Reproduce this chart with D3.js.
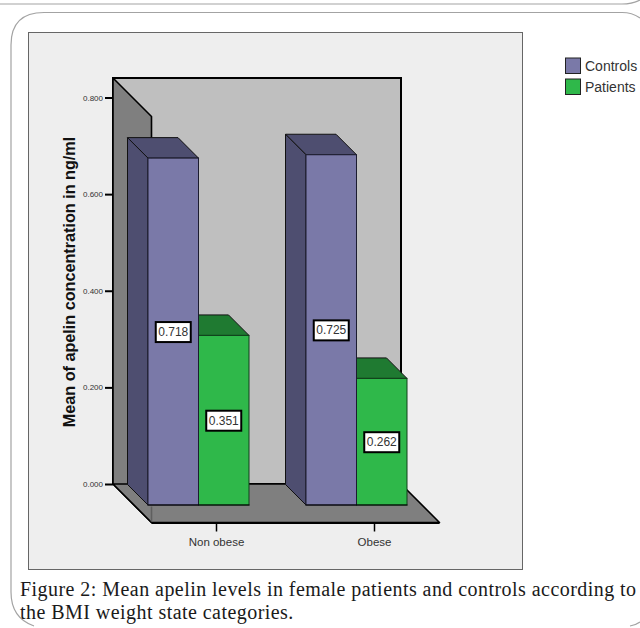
<!DOCTYPE html>
<html>
<head>
<meta charset="utf-8">
<script src="https://cdn.jsdelivr.net/npm/d3@7"></script>
<style>
  html, body { margin: 0; padding: 0; background: #fff; overflow: hidden; }
  svg { display: block; }
</style>
</head>
<body>
<script>
// data
var categories = ["Non obese", "Obese"];
var seriesNames = ["Controls", "Patients"];
var controls = [0.718, 0.725];
var patients = [0.351, 0.262];
var yTicks = [0, 0.2, 0.4, 0.6, 0.8];
var captionLines = [
  "Figure 2: Mean apelin levels in female patients and controls according to",
  "the BMI weight state categories."
];

var width = 640, height = 628;
var wallDepth = 38.5, barDepth = 20.5;
var wallLeft = 113, wallRight = 401, wallTop = 78;

var front = { Controls: "#7a79a8", Patients: "#2fb84a" };
var side = { Controls: "#4e4e70", Patients: "#1f7a31" };

var svg = d3.select("body").append("svg")
  .attr("width", width)
  .attr("height", height);

var yScale = d3.scaleLinear().domain([0, 0.8]).range([484, 97.5]);
var xCat = d3.scalePoint().domain(categories).range([216, 374]);
var xSeries = d3.scaleBand().domain(seriesNames).range([-68, 33]);

function poly(parent, pts, fill, stroke, sw) {
  return parent.append("polygon")
    .attr("points", pts.map(function(p) { return p.join(","); }).join(" "))
    .attr("fill", fill)
    .attr("stroke", stroke || "none")
    .attr("stroke-width", sw || 1)
    .attr("stroke-linejoin", "round");
}

// rounded page frames behind the figure
var frames = svg.append("g").attr("fill", "none").attr("stroke", "#a3a3a3").attr("stroke-width", 1.2);
frames.append("path").attr("d", "M0,4 L622,4 Q632,4 640,0");
frames.append("path").attr("d", "M640,18 Q632,12.5 622,12.5 L44,12.5 Q11,12.5 11,45 L11,592 Q11,618 34,626");
frames.append("path").attr("d", "M630,626 Q636,625 640,622");

// chart panel
svg.append("rect")
  .attr("x", 28.5).attr("y", 32.5)
  .attr("width", 494).attr("height", 537)
  .attr("fill", "#eeeeee")
  .attr("stroke", "#666").attr("stroke-width", 1);

var y0 = yScale(0);
var chart = svg.append("g");

// back wall
chart.append("rect")
  .attr("x", wallLeft).attr("y", wallTop)
  .attr("width", wallRight - wallLeft).attr("height", y0 - wallTop)
  .attr("fill", "#bfbfbf")
  .attr("stroke", "#000").attr("stroke-width", 2);

// left wall
poly(chart, [
  [wallLeft, wallTop],
  [wallLeft + wallDepth, wallTop + wallDepth],
  [wallLeft + wallDepth, y0 + wallDepth],
  [wallLeft, y0]
], "#7f7f7f", "#000", 1.6);

// floor
poly(chart, [
  [wallLeft, y0],
  [wallRight, y0],
  [wallRight + wallDepth, y0 + wallDepth],
  [wallLeft + wallDepth, y0 + wallDepth]
], "#7f7f7f", "#000", 1.6);

chart.append("line")
  .attr("x1", wallLeft + wallDepth).attr("x2", wallRight + wallDepth)
  .attr("y1", y0 + wallDepth + 0.5).attr("y2", y0 + wallDepth + 0.5)
  .attr("stroke", "#000").attr("stroke-width", 2);

// the corner between left wall and floor is a soft line in front of the bars
chart.append("line")
  .attr("x1", wallLeft + wallDepth).attr("x2", wallLeft + wallDepth)
  .attr("y1", y0 + barDepth + 2).attr("y2", y0 + wallDepth - 1)
  .attr("stroke", "#5f5f5f").attr("stroke-width", 1.6);

// bars, the front face stands barDepth in front of the back of the bar
var barBase = y0 + barDepth + 0.5;
var barOffset = barBase - y0;
var rows = [];
categories.forEach(function(c, i) {
  rows.push({ cat: c, name: "Patients", value: patients[i] });
  rows.push({ cat: c, name: "Controls", value: controls[i] });
});

var bars = chart.append("g");
rows.forEach(function(d) {
  var x0 = xCat(d.cat) + xSeries(d.name);
  var x1 = x0 + xSeries.bandwidth();
  var top = yScale(d.value) + barOffset;
  var lineCol = d.name == "Controls" ? "#1c1c30" : "#10401a";
  // top face
  poly(bars, [[x0 - barDepth, top - barDepth], [x1 - barDepth, top - barDepth], [x1, top], [x0, top]], side[d.name], "#111", 1);
  // side face
  poly(bars, [[x0 - barDepth, top - barDepth], [x0, top], [x0, barBase], [x0 - barDepth, barBase - barDepth]], side[d.name], "#111", 1);
  // front face
  bars.append("rect")
    .attr("x", x0).attr("y", top)
    .attr("width", x1 - x0).attr("height", barBase - top)
    .attr("fill", front[d.name])
    .attr("stroke", lineCol).attr("stroke-width", 1);
});
// bottom line under the bars
categories.forEach(function(c) {
  chart.append("line")
    .attr("x1", xCat(c) + xSeries.range()[0] - 0.5)
    .attr("x2", xCat(c) + xSeries.range()[1] + 0.5)
    .attr("y1", barBase).attr("y2", barBase)
    .attr("stroke", "#000").attr("stroke-width", 1.2);
});

// value labels in the middle of each front face
rows.forEach(function(d) {
  var cx = xCat(d.cat) + xSeries(d.name) + xSeries.bandwidth() / 2;
  var top = yScale(d.value) + barOffset;
  var cy = (top + barBase) / 2;
  var g = bars.append("g").attr("transform", "translate(" + cx + "," + (cy + 0.5) + ")");
  g.append("rect")
    .attr("x", -17.5).attr("y", -10)
    .attr("width", 35).attr("height", 20)
    .attr("fill", "#fff")
    .attr("stroke", "#000").attr("stroke-width", 2);
  g.append("text")
    .attr("text-anchor", "middle").attr("y", 4)
    .attr("font-family", "Liberation Sans, Arial, sans-serif")
    .attr("font-size", 12)
    .attr("fill", "#333")
    .text(d.value.toFixed(3));
});

// y axis
var yAxis = d3.axisLeft(yScale)
  .tickValues(yTicks)
  .tickFormat(d3.format(".3f"))
  .tickSize(8)
  .tickPadding(2);
var yG = svg.append("g")
  .attr("transform", "translate(" + wallLeft + ",0)")
  .call(yAxis);
yG.select(".domain").remove();
yG.selectAll(".tick line").attr("stroke", "#000").attr("stroke-width", 2);
yG.selectAll(".tick text")
  .attr("font-family", "Liberation Sans, Arial, sans-serif")
  .attr("font-size", 8)
  .attr("fill", "#333");

// x axis
var xAxis = d3.axisBottom(xCat).tickSize(8).tickPadding(6);
var xG = svg.append("g")
  .attr("transform", "translate(0," + (y0 + wallDepth + 1) + ")")
  .call(xAxis);
xG.select(".domain").remove();
xG.selectAll(".tick line").attr("stroke", "#000").attr("stroke-width", 1.5);
xG.selectAll(".tick text")
  .attr("font-family", "Liberation Sans, Arial, sans-serif")
  .attr("font-size", 11.5)
  .attr("fill", "#333");

// y title
svg.append("text")
  .attr("transform", "translate(74.5,282) rotate(-90)")
  .attr("text-anchor", "middle")
  .attr("font-family", "Liberation Sans, Arial, sans-serif")
  .attr("font-weight", "bold")
  .attr("font-size", 16.2)
  .attr("fill", "#111")
  .text("Mean of apelin concentration in ng/ml");

// legend
var legendY = d3.scalePoint().domain(seriesNames).range([66, 87]);
var legend = svg.selectAll("g.legend").data(seriesNames).enter().append("g")
  .attr("class", "legend")
  .attr("transform", function(d) { return "translate(565," + legendY(d) + ")"; });
legend.append("rect")
  .attr("x", 0.5).attr("y", -8)
  .attr("width", 15).attr("height", 15.5)
  .attr("fill", function(d) { return front[d]; })
  .attr("stroke", "#222").attr("stroke-width", 1);
legend.append("text")
  .attr("x", 20).attr("y", 5)
  .attr("font-family", "Liberation Sans, Arial, sans-serif")
  .attr("font-size", 14)
  .attr("fill", "#333")
  .text(function(d) { return d; });

// caption
svg.selectAll("text.caption").data(captionLines).enter().append("text")
  .attr("class", "caption")
  .attr("x", 20)
  .attr("y", function(d, i) { return 596 + i * 23; })
  .attr("font-family", "Liberation Serif, serif")
  .attr("font-size", 20)
  .attr("letter-spacing", 0.45)
  .attr("fill", "#1a1a1a")
  .text(function(d) { return d; });
</script>
</body>
</html>
